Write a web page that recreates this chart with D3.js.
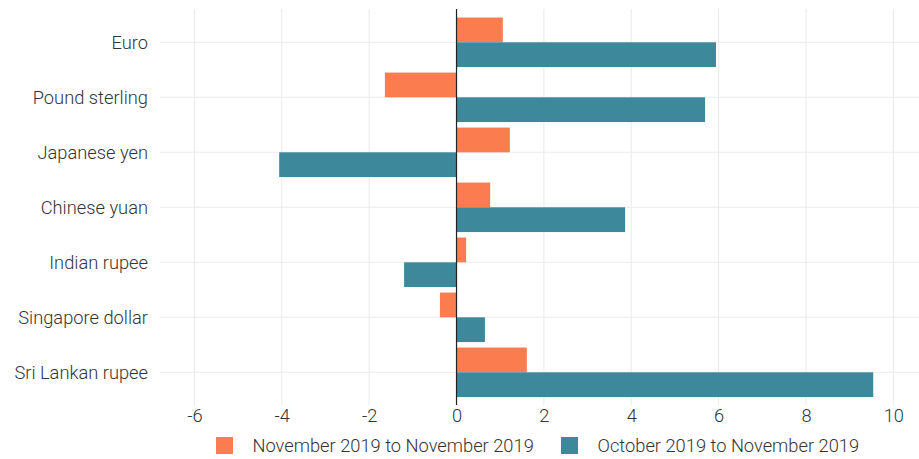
<!DOCTYPE html>
<html>
<head>
<meta charset="utf-8">
<script src="https://cdn.jsdelivr.net/npm/d3@7"></script>
<style>
  html, body { margin: 0; padding: 0; background: #fff; }
  svg { display: block; font-family: Roboto, "Noto Sans", sans-serif; font-weight: 300; }
</style>
</head>
<body>
<svg id="chart" width="919" height="459"></svg>
<script>
// Currency movements (per cent) for two comparison periods
const currencies = ["Euro", "Pound sterling", "Japanese yen", "Chinese yuan", "Indian rupee", "Singapore dollar", "Sri Lankan rupee"];
const seriesNames = ["November 2019 to November 2019", "October 2019 to November 2019"];
const yearOnYear = [1.06, -1.64, 1.22, 0.77, 0.22, -0.38, 1.61];
const monthOnMonth = [5.94, 5.69, -4.06, 3.86, -1.20, 0.65, 9.54];
const xTicks = [-6, -4, -2, 0, 2, 4, 6, 8, 10];
const seriesColors = ["#FA7C4F", "#3D889A"];

const svg = d3.select("#chart");
const panel = { left: 160, right: 919, top: 9, bottom: 405 };
const fontSize = 18.3;

const x = d3.scaleLinear().domain([-6.8, 10.6]).range([159.5, 159.5 + 17.4 * 43.68]);

// Category positions with dodged bars inside each row
const y = d3.scalePoint().domain(currencies).range([42.3, 372.3]);
const step = y.step();
const groupH = step * 0.9;
const inner = d3.scaleBand().domain(seriesNames).range([-groupH / 2, groupH / 2]);

const rows = currencies.map((c, i) => ({
  currency: c,
  values: [
    { series: seriesNames[0], value: yearOnYear[i] },
    { series: seriesNames[1], value: monthOnMonth[i] }
  ]
}));

// Grid
const grid = svg.append("g");
grid.selectAll("line.v").data(xTicks).join("line")
  .attr("x1", d => x(d)).attr("x2", d => x(d))
  .attr("y1", panel.top).attr("y2", panel.bottom)
  .attr("stroke", "#EBEBEB").attr("stroke-width", 1.1);
grid.selectAll("line.h").data(currencies).join("line")
  .attr("x1", panel.left).attr("x2", panel.right)
  .attr("y1", d => y(d)).attr("y2", d => y(d))
  .attr("stroke", "#EBEBEB").attr("stroke-width", 1.1);

// Bars
const groups = svg.append("g").selectAll("g").data(rows).join("g")
  .attr("transform", d => `translate(0,${y(d.currency)})`);
groups.selectAll("rect").data(d => d.values).join("rect")
  .attr("x", d => x(Math.min(0, d.value)))
  .attr("width", d => Math.abs(x(d.value) - x(0)))
  .attr("y", d => inner(d.series))
  .attr("height", inner.bandwidth())
  .attr("fill", (d, i) => seriesColors[i]);

// Zero line
svg.append("line")
  .attr("x1", x(0)).attr("x2", x(0))
  .attr("y1", panel.top).attr("y2", panel.bottom)
  .attr("stroke", "#222").attr("stroke-width", 1.2);

const styleText = g => g.selectAll("text").attr("fill", "#333").attr("font-size", fontSize)
  .attr("font-family", "Roboto, sans-serif").attr("font-weight", 300);

// Category axis labels
const yAxis = d3.axisLeft(y).tickSize(0).tickPadding(0);
svg.append("g").attr("transform", "translate(148,0)").call(yAxis)
  .call(g => g.select(".domain").remove())
  .call(styleText);

// Value axis labels (plain hyphen for negatives)
const xAxis = d3.axisBottom(x).tickValues(xTicks).tickSize(0).tickPadding(0)
  .tickFormat(d => String(d));
svg.append("g").attr("transform", "translate(0,409)").call(xAxis)
  .call(g => g.select(".domain").remove())
  .call(styleText);

// Legend
const legendX = [216, 561];
const legend = svg.append("g").selectAll("g").data(seriesNames).join("g")
  .attr("transform", (d, i) => `translate(${legendX[i]},437)`);
legend.append("rect").attr("width", 17).attr("height", 17)
  .attr("fill", (d, i) => seriesColors[i]);
legend.append("text").attr("x", 36.5).attr("y", 15)
  .attr("fill", "#333").attr("font-size", fontSize)
  .text(d => d);
</script>
</body>
</html>
